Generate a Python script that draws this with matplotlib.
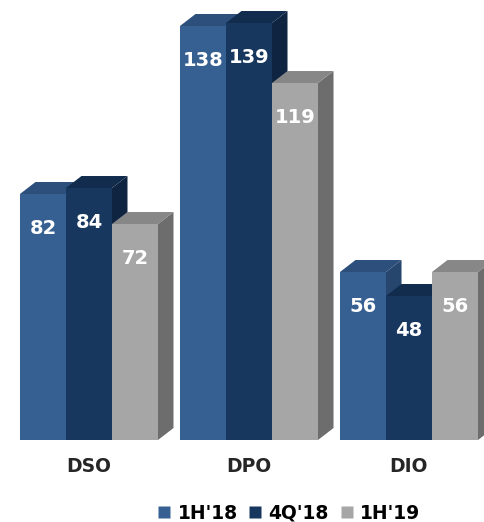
import matplotlib.pyplot as plt
from matplotlib.patches import Polygon
from matplotlib.lines import Line2D
import numpy as np

categories = ['DSO', 'DPO', 'DIO']
series = ["1H'18", "4Q'18", "1H'19"]
h1_18 = [82, 138, 56]
q4_18 = [84, 139, 48]
h1_19 = [72, 119, 56]

# front, top and side shades for each series
front_colors = ['#376092', '#17375e', '#a6a6a6']
top_colors = ['#2c4f7c', '#122c4d', '#878787']
side_colors = ['#27466e', '#0f2440', '#6d6d6d']

width = 0.2875
dx, dy = 0.097, 4.0   # depth of the 3d look, in data units

fig = plt.figure(figsize=(4.85, 5.22), dpi=100)
ax = fig.add_axes([0, 0, 1, 1])
ax.set_xlim(-0.556, 2.475)
ax.set_ylim(-27.33, 146.67)
ax.axis('off')

x = np.arange(len(categories))
values = [h1_18, q4_18, h1_19]

for g in range(len(categories)):
    for s in range(len(series)):
        v = values[s][g]
        left = x[g] + (s - 1) * width - width / 2
        right = left + width
        side = Polygon([(right, 0), (right + dx, dy), (right + dx, v + dy), (right, v)],
                       closed=True, facecolor=side_colors[s], edgecolor='none', zorder=2)
        top = Polygon([(left, v), (left + dx, v + dy), (right + dx, v + dy), (right, v)],
                      closed=True, facecolor=top_colors[s], edgecolor='none', zorder=2)
        ax.add_patch(side)
        ax.add_patch(top)
        ax.bar(left, v, width=width, align='edge', color=front_colors[s],
               edgecolor='none', zorder=2)
        # repaint later bars on top of earlier side faces
        for p in ax.patches[-3:]:
            p.set_zorder(2 + 0.01 * (g * 3 + s))
        ax.text(left + width / 2, v - 11.5, str(v), color='white', fontsize=14,
                fontweight='bold', ha='center', va='center', zorder=10)

for g, name in enumerate(categories):
    ax.text(x[g], -8.7, name, color='#262626', fontsize=13.5, fontweight='bold',
            ha='center', va='center')

handles = [Line2D([], [], marker='s', linestyle='none', markersize=8,
                  markerfacecolor=c, markeredgecolor='none') for c in front_colors]
fig.legend(handles, series, loc='center', bbox_to_anchor=(0.593, 0.017), ncol=3,
           frameon=False, handletextpad=0.2, columnspacing=0.45, handlelength=1.0,
           prop={'size': 13.5, 'weight': 'bold'})

fig.savefig('out.png', dpi=100)
